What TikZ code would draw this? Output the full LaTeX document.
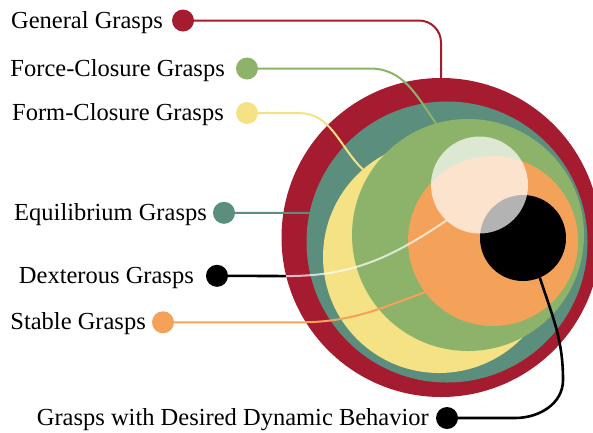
\documentclass[tikz,border=0pt]{standalone}
\usepackage{fontspec}
\setmainfont{Liberation Serif}
\usetikzlibrary{calc}

\definecolor{crimson}{HTML}{A51C30}
\definecolor{sea}{HTML}{5B8E7D}
\definecolor{leaf}{HTML}{8CB369}
\definecolor{straw}{HTML}{F4E285}
\definecolor{tangerine}{HTML}{F4A259}

\begin{document}
\begin{tikzpicture}[x=1pt,y=1pt,
  disc/.style={circle, inner sep=0pt, outer sep=0pt, draw=none},
  dot/.style={circle, inner sep=0pt, outer sep=0pt, minimum size=22pt},
  lbl/.style={anchor=base east, inner sep=0pt, font=\fontsize{24.5}{28}\selectfont},
  link/.style={line width=2pt},
  blink/.style={line width=2.6pt, black},
]
\useasboundingbox (0,0) rectangle (593,-432);

% nested grasp sets
\node[disc, fill=crimson,   minimum size=319pt] (gen)  at (441,-237.5) {};
\node[disc, fill=sea,       minimum size=281pt] (equ)  at (447,-242)   {};
\node[disc, fill=straw,     minimum size=232pt] (form) at (439,-257)   {};
\node[disc, fill=leaf,      minimum size=232pt] (force) at (468,-235)  {};
\node[disc, fill=tangerine, minimum size=170pt] (stab) at (493,-241)   {};
\node[disc, fill=black,     minimum size=86pt]  (dyn)  at (523,-238)   {};
\node[disc, fill=white, fill opacity=0.7, minimum size=97pt] (dex) at (479.5,-185) {};

% legend dots
\node[dot, fill=crimson]   (gdot) at (183,-20.5) {};
\node[dot, fill=leaf]      (fdot) at (247,-68.5) {};
\node[dot, fill=straw]     (mdot) at (247,-113)  {};
\node[dot, fill=sea]       (edot) at (224,-212.8) {};
\node[dot, fill=black]     (xdot) at (217,-275.8) {};
\node[dot, fill=tangerine] (sdot) at (163,-322.3) {};
\node[dot, fill=black]     (ydot) at (447,-418)  {};

% labels
\node[lbl] at ([shift={(-20,-7.5)}]gdot.center) {General Grasps};
\node[lbl] at ([shift={(-22,-7.5)}]fdot.center) {Force-Closure Grasps};
\node[lbl] at ([shift={(-23,-7.5)}]mdot.center) {Form-Closure Grasps};
\node[lbl] at ([shift={(-17,-7.5)}]edot.center) {Equilibrium Grasps};
\node[lbl] at ([shift={(-23,-7.5)}]xdot.center) {Dexterous Grasps};
\node[lbl] at ([shift={(-17,-7.5)}]sdot.center) {Stable Grasps};
\node[lbl] at ([shift={(-18,-7.5)}]ydot.center) {Grasps with Desired Dynamic Behavior};

% connectors
\draw[link, crimson, rounded corners=22pt] (gdot.east) -| (gen.north);
\draw[link, leaf] (fdot.east) -- (370,-68.5) to[out=0,in=125] (force.106);
\draw[link, straw] (mdot.east) -- (298,-113) to[out=0,in=136] (form.131);
\draw[link, sea] (edot.east) -- (equ.168);
\draw[blink] (xdot.east) -- (gen.194);
\draw[link, white, draw opacity=0.7] (gen.194) to[out=0,in=214] (dex.227);
\draw[link, tangerine] (sdot.east) -- (300,-322.3) to[out=0,in=200] (stab.217);
\draw[blink] (ydot.east) -- (515,-418) to[out=0,in=-90] (563,-380)
  to[out=90,in=-72] (dyn.-67);
\end{tikzpicture}
\end{document}
